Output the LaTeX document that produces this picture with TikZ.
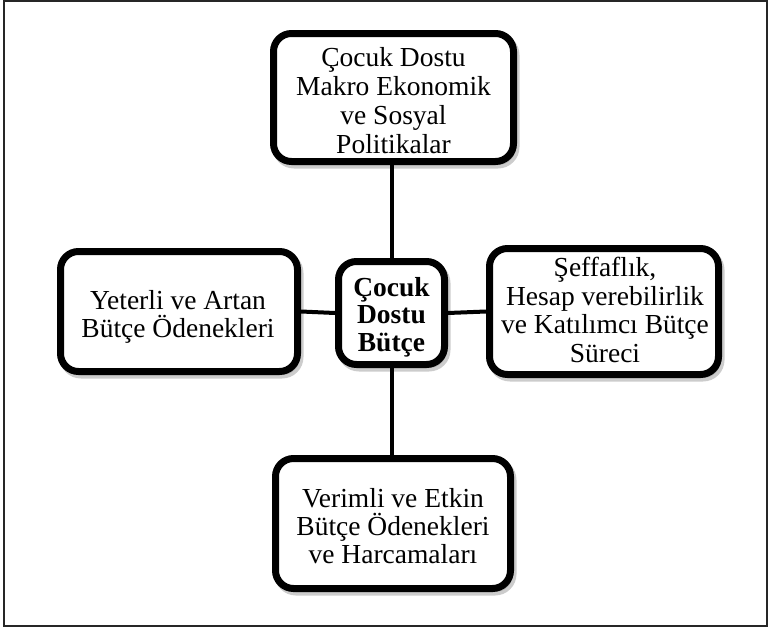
\documentclass[tikz,border=0pt]{standalone}
\usepackage{fontspec}
\setmainfont{Liberation Serif}
\usetikzlibrary{shadows}
\begin{document}
\begin{tikzpicture}[x=1pt,y=-1pt,
  boxstyle/.style={draw=black, line width=7pt, rounded corners=18pt, fill=white,
    inner sep=0pt,
    drop shadow={shadow xshift=2.5pt, shadow yshift=-3.5pt, opacity=0.4,
      fill=black!50, draw=black!50, line width=7pt}},
  txt/.style={align=center, inner sep=0pt, anchor=north},
  link/.style={line width=4pt, draw=black}]
\useasboundingbox (0,0) rectangle (768,629);
\draw[line width=1.5pt, draw=black!85] (4,1) rectangle (767,626);
% boxes
\node[boxstyle, minimum width=240pt, minimum height=128pt] (top) at (393.5,97.5) {};
\node[boxstyle, minimum width=106pt, minimum height=103pt] (mid) at (391.5,313) {};
\node[boxstyle, minimum width=237pt, minimum height=120pt] (left) at (179,311.5) {};
\node[boxstyle, minimum width=229pt, minimum height=126pt] (right) at (604,311.5) {};
\node[boxstyle, minimum width=235pt, minimum height=130pt] (bot) at (393,523.5) {};
% texts
\node[txt, font=\fontsize{27.5}{29}\selectfont] (toptext) at (393.5,47.5)
  {Çocuk Dostu\\Makro Ekonomik\\ve Sosyal\\Politikalar};
\node[txt, font=\bfseries\fontsize{27.5}{27.5}\selectfont] (midtext) at (391.5,276.8)
  {Çocuk\\Dostu\\Bütçe};
\node[txt, font=\fontsize{27.5}{28}\selectfont] (lefttext) at (178,290.5)
  {Yeterli ve Artan\\Bütçe Ödenekleri};
\node[txt, font=\fontsize{27.5}{28.5}\selectfont] (righttext) at (605,257.2)
  {Şeffaflık,\\Hesap verebilirlik\\ve Katılımcı Bütçe\\Süreci};
\node[txt, font=\fontsize{27.5}{28}\selectfont] (bottext) at (393,488.3)
  {Verimli ve Etkin\\Bütçe Ödenekleri\\ve Harcamaları};
% connectors
\draw[link] (top.south -| mid.north) -- (mid.north);
\draw[link] (mid.south) -- (mid.south |- bot.north);
\draw[link] (left.east) -- (mid.west);
\draw[link] (mid.east) -- (right.west);
\end{tikzpicture}
\end{document}
